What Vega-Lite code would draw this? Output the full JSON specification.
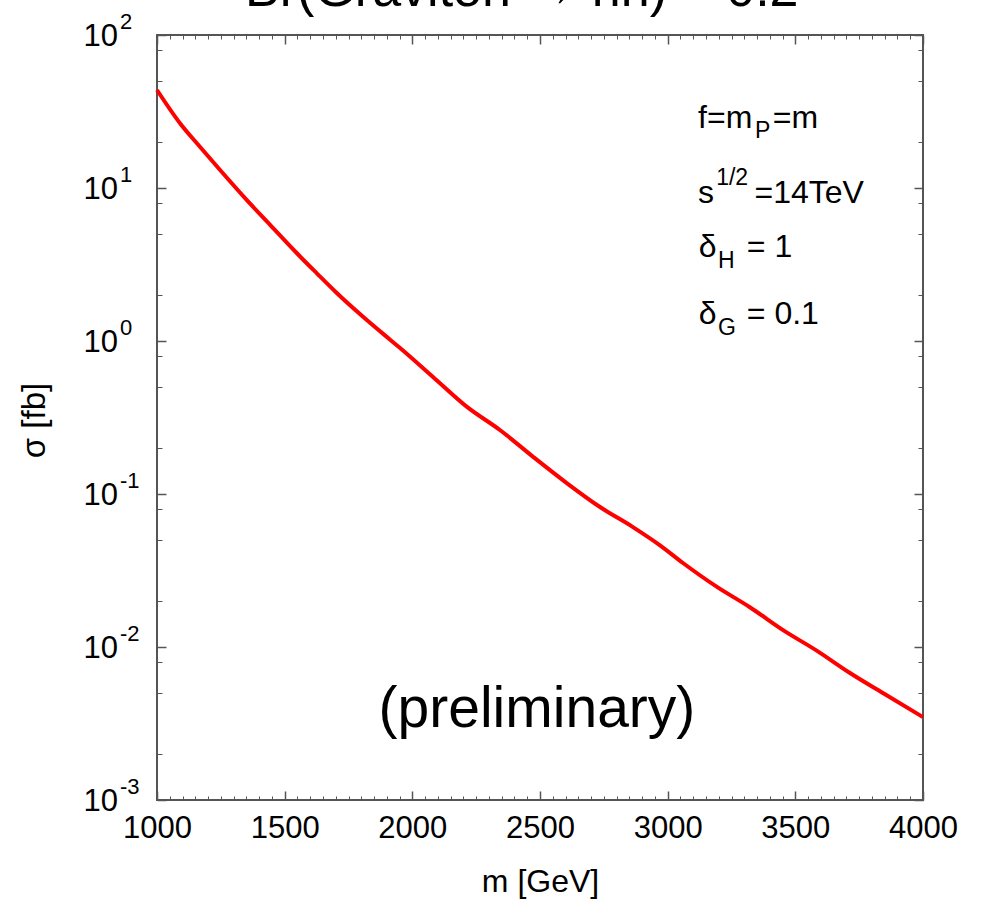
{
  "$schema": "https://vega.github.io/schema/vega-lite/v6.json",
  "width": 766,
  "height": 765,
  "autosize": {"type": "none"},
  "padding": {"left": 157, "top": 35, "right": 61, "bottom": 110},
  "background": "white",
  "config": {
    "font": "Liberation Sans",
    "view": {"stroke": "#555555", "strokeWidth": 2},
    "axis": {"grid": false, "domain": false, "tickColor": "#555555", "tickWidth": 1.5, "labelColor": "#000000", "titleColor": "#000000", "titleFontWeight": "normal"}
  },
  "datasets": {
    "curve": [
      {"m": 1000, "s": 43.7},
      {"m": 1090, "s": 26.5},
      {"m": 1168, "s": 18.6},
      {"m": 1247, "s": 13.1},
      {"m": 1351, "s": 8.36},
      {"m": 1443, "s": 5.75},
      {"m": 1547, "s": 3.76},
      {"m": 1625, "s": 2.78},
      {"m": 1704, "s": 2.06},
      {"m": 1807, "s": 1.44},
      {"m": 1913, "s": 1.02},
      {"m": 1952, "s": 0.9},
      {"m": 2081, "s": 0.582},
      {"m": 2214, "s": 0.371},
      {"m": 2343, "s": 0.262},
      {"m": 2473, "s": 0.175},
      {"m": 2606, "s": 0.1175},
      {"m": 2735, "s": 0.0822},
      {"m": 2864, "s": 0.0608},
      {"m": 2970, "s": 0.0462},
      {"m": 3060, "s": 0.0354},
      {"m": 3193, "s": 0.0247},
      {"m": 3322, "s": 0.0182},
      {"m": 3452, "s": 0.0129},
      {"m": 3585, "s": 0.00944},
      {"m": 3714, "s": 0.00676},
      {"m": 3843, "s": 0.005},
      {"m": 4000, "s": 0.00348}
    ],
    "decades": [
      {"v": 100, "e": "2"},
      {"v": 10, "e": "1"},
      {"v": 1, "e": "0"},
      {"v": 0.1, "e": "-1"},
      {"v": 0.01, "e": "-2"},
      {"v": 0.001, "e": "-3"}
    ]
  },
  "layer": [
    {
      "data": {"name": "curve"},
      "mark": {"type": "line", "color": "#ff0000", "strokeWidth": 4, "interpolate": "monotone"},
      "encoding": {
        "x": {"field": "m", "type": "quantitative",
          "scale": {"domain": [1000, 4000], "nice": false, "zero": false},
          "axis": {"orient": "bottom", "values": [1000, 1500, 2000, 2500, 3000, 3500, 4000], "format": "d", "tickSize": -9,
            "labelFontSize": 31, "labelPadding": 22, "labelFlush": false,
            "title": "m [GeV]", "titleFontSize": 32, "titleX": 383, "titleY": 81, "titleBaseline": "middle", "titleAlign": "center"}},
        "y": {"field": "s", "type": "quantitative",
          "scale": {"type": "log", "domain": [0.001, 100], "nice": false},
          "axis": {"orient": "left", "values": [0.001, 0.01, 0.1, 1, 10, 100], "tickSize": -9, "labels": false,
            "title": "σ [fb]", "titleFontSize": 33, "titleX": -123, "titleY": 385, "titleAngle": -90, "titleBaseline": "middle", "titleAlign": "center"}}
      }
    },
    {
      "data": {"name": "curve"},
      "mark": {"type": "line", "strokeOpacity": 0},
      "encoding": {
        "x": {"field": "m", "type": "quantitative",
          "axis": {"orient": "top", "values": [1000, 1500, 2000, 2500, 3000, 3500, 4000], "tickSize": -9, "labels": false, "title": null}},
        "y": {"field": "s", "type": "quantitative",
          "axis": {"orient": "right", "values": [0.001, 0.01, 0.1, 1, 10, 100], "tickSize": -9, "labels": false, "title": null}}
      }
    },
    {
      "data": {"name": "curve"},
      "mark": {"type": "line", "strokeOpacity": 0},
      "encoding": {
        "x": {"field": "m", "type": "quantitative",
          "axis": {"orient": "bottom", "values": [1050,1100,1150,1200,1250,1300,1350,1400,1450,1550,1600,1650,1700,1750,1800,1850,1900,1950,2050,2100,2150,2200,2250,2300,2350,2400,2450,2550,2600,2650,2700,2750,2800,2850,2900,2950,3050,3100,3150,3200,3250,3300,3350,3400,3450,3550,3600,3650,3700,3750,3800,3850,3900,3950], "tickSize": -4, "tickWidth": 1, "labels": false, "title": null}},
        "y": {"field": "s", "type": "quantitative",
          "axis": {"orient": "left", "values": [0.002,0.005,0.008,0.02,0.05,0.08,0.2,0.5,0.8,2,5,8,20,50,80], "tickSize": -5, "tickWidth": 1, "labels": false, "title": null}}
      }
    },
    {
      "data": {"name": "curve"},
      "mark": {"type": "line", "strokeOpacity": 0},
      "encoding": {
        "x": {"field": "m", "type": "quantitative",
          "axis": {"orient": "top", "values": [1050,1100,1150,1200,1250,1300,1350,1400,1450,1550,1600,1650,1700,1750,1800,1850,1900,1950,2050,2100,2150,2200,2250,2300,2350,2400,2450,2550,2600,2650,2700,2750,2800,2850,2900,2950,3050,3100,3150,3200,3250,3300,3350,3400,3450,3550,3600,3650,3700,3750,3800,3850,3900,3950], "tickSize": -4, "tickWidth": 1, "labels": false, "title": null}},
        "y": {"field": "s", "type": "quantitative",
          "axis": {"orient": "right", "values": [0.002,0.005,0.008,0.02,0.05,0.08,0.2,0.5,0.8,2,5,8,20,50,80], "tickSize": -5, "tickWidth": 1, "labels": false, "title": null}}
      }
    },
    {
      "data": {"name": "decades"},
      "mark": {"type": "text", "text": "10", "font": "Liberation Sans", "fontSize": 31, "align": "right", "baseline": "middle", "dx": -39, "dy": 2, "color": "#000000"},
      "encoding": {
        "x": {"datum": 1000, "type": "quantitative", "axis": null},
        "y": {"field": "v", "type": "quantitative", "axis": null}
      }
    },
    {
      "data": {"name": "decades"},
      "mark": {"type": "text", "font": "Liberation Sans", "fontSize": 22, "align": "left", "baseline": "middle", "dx": -37, "dy": -13, "color": "#000000"},
      "encoding": {
        "x": {"datum": 1000, "type": "quantitative", "axis": null},
        "y": {"field": "v", "type": "quantitative", "axis": null},
        "text": {"field": "e"}
      }
    },
    {
      "data": {"values": [{"t": "Br(Graviton → hh) = 0.2"}]},
      "mark": {"type": "text", "font": "Liberation Sans", "fontSize": 52, "align": "left", "baseline": "alphabetic", "color": "#000000"},
      "encoding": {
        "x": {"datum": 1345, "type": "quantitative", "axis": null},
        "y": {"datum": 154.7, "type": "quantitative", "axis": null},
        "text": {"field": "t"}
      }
    },
    {
      "data": {"values": [{"t": "(preliminary)"}]},
      "mark": {"type": "text", "font": "Liberation Sans", "fontSize": 57, "align": "center", "baseline": "alphabetic", "color": "#000000"},
      "encoding": {
        "x": {"datum": 2488, "type": "quantitative", "axis": null},
        "y": {"datum": 0.003, "type": "quantitative", "axis": null},
        "text": {"field": "t"}
      }
    },
    {
      "data": {"values": [{"t": "f=m"}]},
      "mark": {"type": "text", "font": "Liberation Sans", "fontSize": 32, "align": "left", "baseline": "alphabetic", "color": "#000000"},
      "encoding": {
        "x": {"datum": 3119, "type": "quantitative", "axis": null},
        "y": {"datum": 24.66, "type": "quantitative", "axis": null},
        "text": {"field": "t"}
      }
    },
    {
      "data": {"values": [{"t": "P"}]},
      "mark": {"type": "text", "font": "Liberation Sans", "fontSize": 23, "align": "left", "baseline": "alphabetic", "color": "#000000"},
      "encoding": {
        "x": {"datum": 3342, "type": "quantitative", "axis": null},
        "y": {"datum": 21.23, "type": "quantitative", "axis": null},
        "text": {"field": "t"}
      }
    },
    {
      "data": {"values": [{"t": "=m"}]},
      "mark": {"type": "text", "font": "Liberation Sans", "fontSize": 32, "align": "left", "baseline": "alphabetic", "color": "#000000"},
      "encoding": {
        "x": {"datum": 3412, "type": "quantitative", "axis": null},
        "y": {"datum": 24.66, "type": "quantitative", "axis": null},
        "text": {"field": "t"}
      }
    },
    {
      "data": {"values": [{"t": "s"}]},
      "mark": {"type": "text", "font": "Liberation Sans", "fontSize": 32, "align": "left", "baseline": "alphabetic", "color": "#000000"},
      "encoding": {
        "x": {"datum": 3119, "type": "quantitative", "axis": null},
        "y": {"datum": 7.98, "type": "quantitative", "axis": null},
        "text": {"field": "t"}
      }
    },
    {
      "data": {"values": [{"t": "1/2"}]},
      "mark": {"type": "text", "font": "Liberation Sans", "fontSize": 23, "align": "left", "baseline": "alphabetic", "color": "#000000"},
      "encoding": {
        "x": {"datum": 3190, "type": "quantitative", "axis": null},
        "y": {"datum": 10.46, "type": "quantitative", "axis": null},
        "text": {"field": "t"}
      }
    },
    {
      "data": {"values": [{"t": "=14TeV"}]},
      "mark": {"type": "text", "font": "Liberation Sans", "fontSize": 32, "align": "left", "baseline": "alphabetic", "color": "#000000"},
      "encoding": {
        "x": {"datum": 3340, "type": "quantitative", "axis": null},
        "y": {"datum": 7.98, "type": "quantitative", "axis": null},
        "text": {"field": "t"}
      }
    },
    {
      "data": {"values": [{"t": "δ"}]},
      "mark": {"type": "text", "font": "Liberation Sans", "fontSize": 32, "align": "left", "baseline": "alphabetic", "color": "#000000"},
      "encoding": {
        "x": {"datum": 3122, "type": "quantitative", "axis": null},
        "y": {"datum": 3.54, "type": "quantitative", "axis": null},
        "text": {"field": "t"}
      }
    },
    {
      "data": {"values": [{"t": "H"}]},
      "mark": {"type": "text", "font": "Liberation Sans", "fontSize": 23, "align": "left", "baseline": "alphabetic", "color": "#000000"},
      "encoding": {
        "x": {"datum": 3197, "type": "quantitative", "axis": null},
        "y": {"datum": 3.0, "type": "quantitative", "axis": null},
        "text": {"field": "t"}
      }
    },
    {
      "data": {"values": [{"t": "= 1"}]},
      "mark": {"type": "text", "font": "Liberation Sans", "fontSize": 32, "align": "left", "baseline": "alphabetic", "color": "#000000"},
      "encoding": {
        "x": {"datum": 3310, "type": "quantitative", "axis": null},
        "y": {"datum": 3.54, "type": "quantitative", "axis": null},
        "text": {"field": "t"}
      }
    },
    {
      "data": {"values": [{"t": "δ"}]},
      "mark": {"type": "text", "font": "Liberation Sans", "fontSize": 32, "align": "left", "baseline": "alphabetic", "color": "#000000"},
      "encoding": {
        "x": {"datum": 3122, "type": "quantitative", "axis": null},
        "y": {"datum": 1.3, "type": "quantitative", "axis": null},
        "text": {"field": "t"}
      }
    },
    {
      "data": {"values": [{"t": "G"}]},
      "mark": {"type": "text", "font": "Liberation Sans", "fontSize": 23, "align": "left", "baseline": "alphabetic", "color": "#000000"},
      "encoding": {
        "x": {"datum": 3197, "type": "quantitative", "axis": null},
        "y": {"datum": 1.09, "type": "quantitative", "axis": null},
        "text": {"field": "t"}
      }
    },
    {
      "data": {"values": [{"t": "= 0.1"}]},
      "mark": {"type": "text", "font": "Liberation Sans", "fontSize": 32, "align": "left", "baseline": "alphabetic", "color": "#000000"},
      "encoding": {
        "x": {"datum": 3310, "type": "quantitative", "axis": null},
        "y": {"datum": 1.3, "type": "quantitative", "axis": null},
        "text": {"field": "t"}
      }
    }
  ],
  "resolve": {"axis": {"x": "independent", "y": "independent"}}
}
